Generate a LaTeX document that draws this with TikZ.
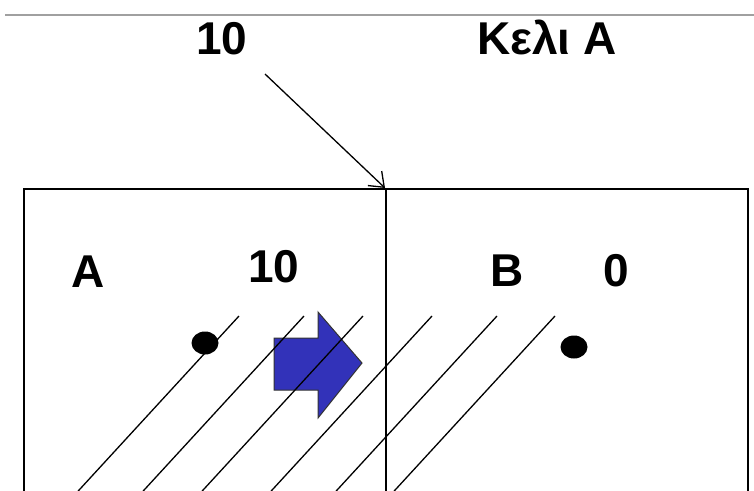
\documentclass[tikz,border=0pt]{standalone}
\usepackage{fontspec}
\setmainfont{Liberation Sans}
\usetikzlibrary{arrows.meta,shapes.geometric}
\definecolor{flowblue}{RGB}{50,50,185}
\definecolor{rulegray}{RGB}{160,160,160}
\tikzset{
  lbl/.style={anchor=base,inner sep=0pt,font=\fontsize{46}{50}\selectfont\bfseries},
  dot/.style={ellipse,fill=black,inner sep=0pt,minimum width=27pt,minimum height=23pt},
  hatch/.style={line width=1.3pt},
  wall/.style={line width=2pt},
  pointer/.style={line width=1.3pt,-{Straight Barb[length=13pt,width=20pt,line width=1.3pt]}}
}
\begin{document}
\begin{tikzpicture}[x=1pt,y=-1pt]
\useasboundingbox (0,0) rectangle (754,490);
\begin{scope}
\clip (0,0) rectangle (754,490);
% top rule
\draw[rulegray,line width=1.5pt] (5,15) -- (754,15);
% blue flow arrow
\draw[fill=flowblue,draw=black!80,line width=1pt]
  (274,338) -- (318,338) -- (318,312) -- (362,363) -- (318,418) -- (318,390) -- (274,390) -- cycle;
% hatch lines
\foreach \t/\n in {239/h1,304/h2,363/h3,432/h4,497/h5,555/h6}{
  \coordinate (\n a) at (\t,316);
  \coordinate (\n b) at (\t-170,501);
  \draw[hatch] (\n a) -- (\n b);
}
% box and wall
\coordinate (boxtl) at (24,189);
\coordinate (boxbr) at (748,505);
\draw[wall] (boxtl) rectangle (boxbr);
\coordinate (walltop) at (386,189);
\coordinate (wallbot) at (386,505);
\draw[line width=2.4pt] (walltop) -- (wallbot);
% pointer
\coordinate (ptrstart) at (265,74);
\coordinate (ptrend) at (385,188);
\draw[pointer] (ptrstart) -- (ptrend);
% dots
\node[dot] (dotA) at (205,343) {};
\node[dot] (dotB) at (574,347) {};
\end{scope}
% labels
\node[lbl] (toplbl) at (222,54) {10};
\node[lbl] (celllbl) at (547,54) {Κελι Α};
\node[lbl] (lblA) at (88,287) {A};
\node[lbl] (valA) at (274,282) {10};
\node[lbl] (lblB) at (507,286) {B};
\node[lbl] (valB) at (616,286) {0};
\end{tikzpicture}
\end{document}
